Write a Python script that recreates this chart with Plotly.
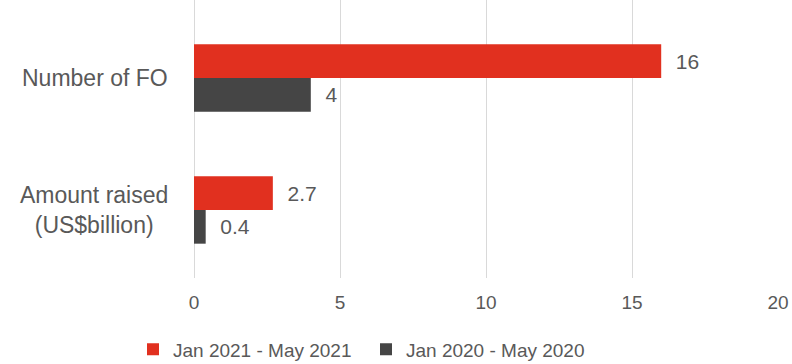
import plotly.graph_objects as go

categories = ["Number of FO", "Amount raised<br>(US$billion)"]
series_2021 = [16, 2.7]
series_2020 = [4, 0.4]
x_ticks = [0, 5, 10, 15, 20]

RED = "#E1301F"
GREY = "#454545"
TEXT = "#595959"
FONT = "Liberation Sans, Arial, sans-serif"
PAD = "\u00a0\u00a0"

fig = go.Figure()
fig.add_trace(go.Bar(
    y=categories, x=series_2021, orientation="h", name="Jan 2021 - May 2021",
    marker=dict(color=RED, line=dict(width=0)),
    texttemplate=PAD + "%{x}", textposition="outside", cliponaxis=False,
    textfont=dict(size=21, color=TEXT, family=FONT),
))
fig.add_trace(go.Bar(
    y=categories, x=series_2020, orientation="h", name="Jan 2020 - May 2020",
    marker=dict(color=GREY, line=dict(width=0)),
    texttemplate=PAD + "%{x}", textposition="outside", cliponaxis=False,
    textfont=dict(size=21, color=TEXT, family=FONT),
))

# category labels, centred per line, to the left of the value axis
for cat in categories:
    fig.add_annotation(
        x=0, y=cat, xref="x", yref="y", text=cat, showarrow=False,
        xanchor="right", yanchor="middle", align="center", xshift=-24,
        font=dict(size=23, color=TEXT, family=FONT),
    )

fig.update_layout(
    width=792, height=364,
    margin=dict(l=194, r=14, t=0, b=86),
    paper_bgcolor="white", plot_bgcolor="white",
    barmode="group", bargap=0.49, bargroupgap=0,
    font=dict(family=FONT, size=18, color=TEXT),
    showlegend=True,
    legend=dict(orientation="h", xref="container", yref="container",
                x=133 / 792, xanchor="left", y=0.04, yanchor="middle",
                font=dict(size=19, color=TEXT), itemwidth=30, entrywidth=188,
                tracegroupgap=0),
    xaxis=dict(range=[0, 20], tickvals=x_ticks, showgrid=True, gridcolor="#D9D9D9",
               gridwidth=1, zeroline=True, zerolinecolor="#D9D9D9", zerolinewidth=1,
               showline=False, ticks="", tickfont=dict(size=19, color=TEXT),
               ticklabelstandoff=11),
    yaxis=dict(type="category", range=[1.515, -0.591], showgrid=False, showline=False,
               ticks="", showticklabels=False),
)

fig.write_html("out.html")
